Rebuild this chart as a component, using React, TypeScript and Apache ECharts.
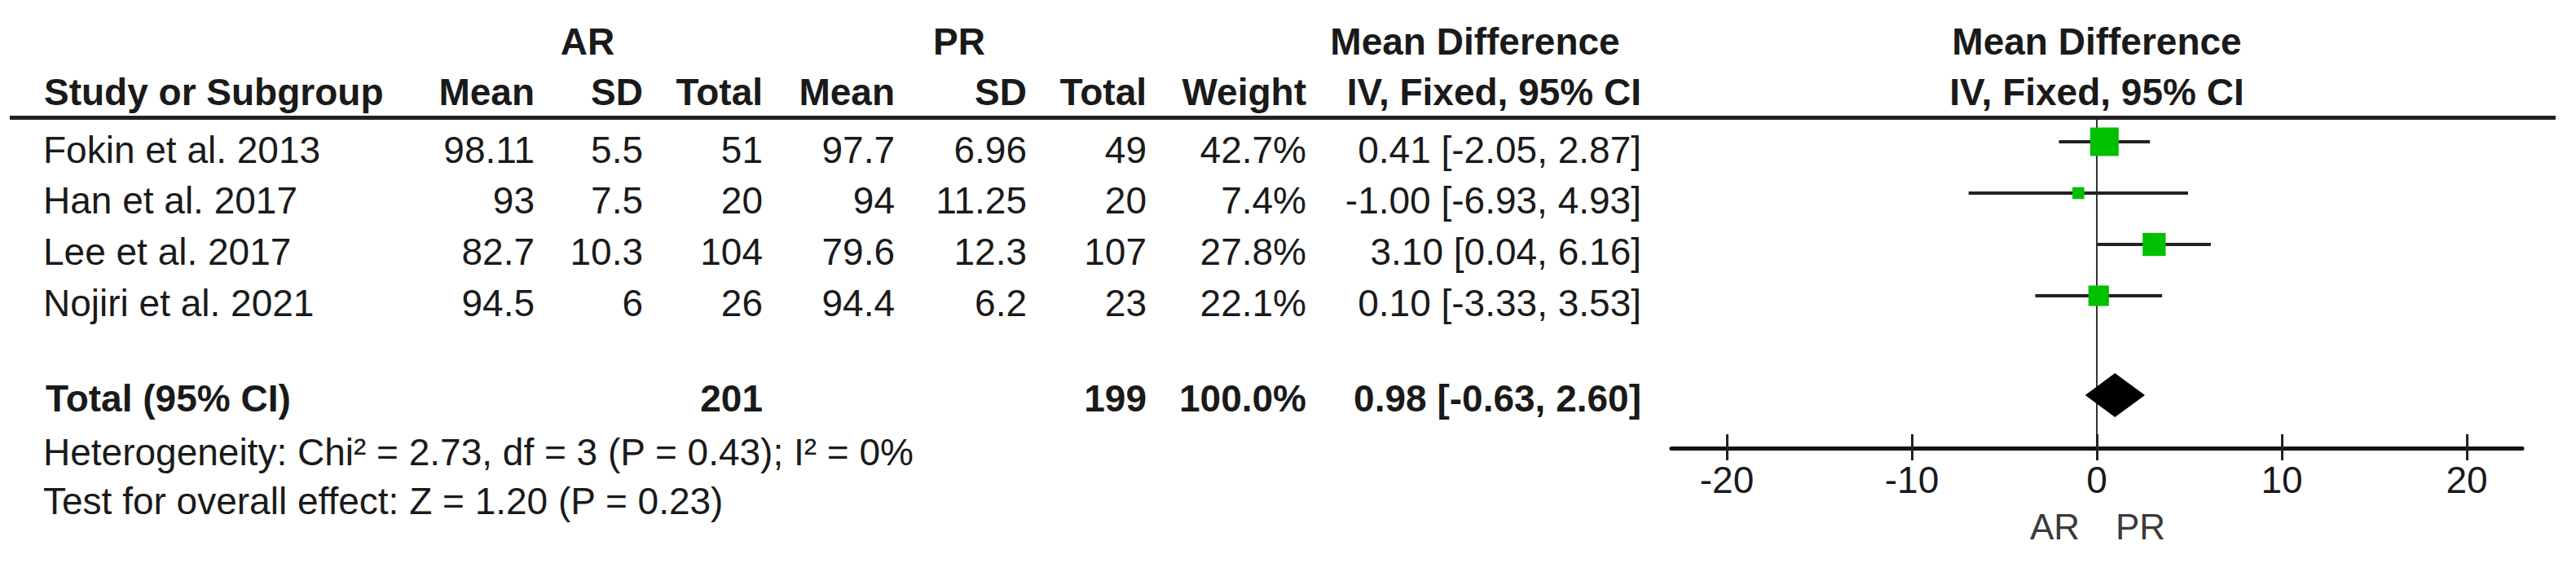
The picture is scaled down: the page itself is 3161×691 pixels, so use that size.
import React, { useEffect, useRef } from 'react';
import * as echarts from 'echarts';

// ---------- data ----------
const studies = ['Fokin et al. 2013', 'Han et al. 2017', 'Lee et al. 2017', 'Nojiri et al. 2021'];
const arMean = [98.11, 93, 82.7, 94.5];
const arSD = [5.5, 7.5, 10.3, 6];
const arTotal = [51, 20, 104, 26];
const prMean = [97.7, 94, 79.6, 94.4];
const prSD = [6.96, 11.25, 12.3, 6.2];
const prTotal = [49, 20, 107, 23];
const weights = [42.7, 7.4, 27.8, 22.1];
const meanDiff = [0.41, -1.0, 3.1, 0.1];
const ciLow = [-2.05, -6.93, 0.04, -3.33];
const ciHigh = [2.87, 4.93, 6.16, 3.53];

const pooledARTotal = 201;
const pooledPRTotal = 199;
const pooledWeight = 100.0;
const pooledMD = 0.98;
const pooledLow = -0.63;
const pooledHigh = 2.6;

const heterogeneityText = 'Heterogeneity: Chi² = 2.73, df = 3 (P = 0.43); I² = 0%';
const overallText = 'Test for overall effect: Z = 1.20 (P = 0.23)';
const xTicks = [-20, -10, 0, 10, 20];
const favourLeft = 'AR';
const favourRight = 'PR';

// ---------- layout ----------
const W = 3161;
const H = 691;
const ZERO_X = 2573;
const PX_PER_UNIT = 22.7;
const X_MIN = -23;
const X_MAX = 23;
const GRID_TOP = 147;
const GRID_BOTTOM_PX = 550;
const ROW0_PX = 174;
const ROW_STEP = 63;
const POOLED_ROW_PX = 485;
const FONT = "'Liberation Sans', Arial, Helvetica, sans-serif";
const FS = 46;
const TXT = '#1a1a1a';

const gridLeft = ZERO_X + X_MIN * PX_PER_UNIT;
const gridWidth = (X_MAX - X_MIN) * PX_PER_UNIT;
const yMin = (GRID_TOP - ROW0_PX) / ROW_STEP;
const yMax = (GRID_BOTTOM_PX - ROW0_PX) / ROW_STEP;
const pooledRow = (POOLED_ROW_PX - ROW0_PX) / ROW_STEP;

const col = {
  arMean: 656,
  arSD: 789,
  arTotal: 936,
  prMean: 1098,
  prSD: 1260,
  prTotal: 1407,
  weight: 1603,
  ci: 2014,
};

const fmtCI = (m: number, l: number, h: number) =>
  `${m.toFixed(2)} [${l.toFixed(2)}, ${h.toFixed(2)}]`;

function txt(
  text: string,
  x: number,
  y: number,
  align: 'left' | 'right' | 'center',
  bold = false,
  size = FS,
  color = TXT
) {
  return {
    type: 'text',
    x,
    y,
    silent: true,
    style: {
      text,
      fill: color,
      fontSize: size,
      fontFamily: FONT,
      fontWeight: bold ? 'bold' : 'normal',
      align,
      textAlign: align,
      verticalAlign: 'middle',
      textVerticalAlign: 'middle',
    },
  };
}

function buildGraphics() {
  const g: any[] = [];
  // header row 1
  const h1 = 51;
  g.push(txt('AR', 721, h1, 'center', true));
  g.push(txt('PR', 1177, h1, 'center', true));
  g.push(txt('Mean Difference', 1810, h1, 'center', true));
  g.push(txt('Mean Difference', ZERO_X, h1, 'center', true));
  // header row 2
  const h2 = 113;
  g.push(txt('Study or Subgroup', 54, h2, 'left', true));
  g.push(txt('Mean', col.arMean, h2, 'right', true));
  g.push(txt('SD', col.arSD, h2, 'right', true));
  g.push(txt('Total', col.arTotal, h2, 'right', true));
  g.push(txt('Mean', col.prMean, h2, 'right', true));
  g.push(txt('SD', col.prSD, h2, 'right', true));
  g.push(txt('Total', col.prTotal, h2, 'right', true));
  g.push(txt('Weight', col.weight, h2, 'right', true));
  g.push(txt('IV, Fixed, 95% CI', col.ci, h2, 'right', true));
  g.push(txt('IV, Fixed, 95% CI', ZERO_X, h2, 'center', true));
  // header rule
  g.push({
    type: 'line',
    silent: true,
    shape: { x1: 12, y1: 144.5, x2: 3136, y2: 144.5 },
    style: { stroke: '#222', lineWidth: 5 },
  });
  // study rows
  studies.forEach((s, i) => {
    const y = 183.5 + 62.7 * i;
    g.push(txt(s, 53, y, 'left'));
    g.push(txt(String(arMean[i]), col.arMean, y, 'right'));
    g.push(txt(String(arSD[i]), col.arSD, y, 'right'));
    g.push(txt(String(arTotal[i]), col.arTotal, y, 'right'));
    g.push(txt(String(prMean[i]), col.prMean, y, 'right'));
    g.push(txt(String(prSD[i]), col.prSD, y, 'right'));
    g.push(txt(String(prTotal[i]), col.prTotal, y, 'right'));
    g.push(txt(weights[i].toFixed(1) + '%', col.weight, y, 'right'));
    g.push(txt(fmtCI(meanDiff[i], ciLow[i], ciHigh[i]), col.ci, y, 'right'));
  });
  // total row
  const ty = 489;
  g.push(txt('Total (95% CI)', 56, ty, 'left', true));
  g.push(txt(String(pooledARTotal), col.arTotal, ty, 'right', true));
  g.push(txt(String(pooledPRTotal), col.prTotal, ty, 'right', true));
  g.push(txt(pooledWeight.toFixed(1) + '%', col.weight, ty, 'right', true));
  g.push(txt(fmtCI(pooledMD, pooledLow, pooledHigh), col.ci, ty, 'right', true));
  // footnotes
  g.push(txt(heterogeneityText, 53, 555, 'left'));
  g.push(txt(overallText, 53, 615, 'left'));
  // favours labels
  g.push(txt(favourLeft, ZERO_X - 21, 646, 'right', false, 44, '#3a3a3a'));
  g.push(txt(favourRight, ZERO_X + 23, 646, 'left', false, 44, '#3a3a3a'));
  return g;
}

export default function App() {
  const ref = useRef<HTMLDivElement>(null);
  useEffect(() => {
    if (!ref.current) return;
    const chart = echarts.init(ref.current, undefined, { renderer: 'svg' });
    const gridCommon = {
      left: gridLeft,
      width: gridWidth,
      top: GRID_TOP,
      bottom: H - GRID_BOTTOM_PX,
      containLabel: false,
    };
    const option: any = {
      animation: false,
      backgroundColor: '#ffffff',
      grid: [gridCommon, { ...gridCommon }],
      xAxis: [
        {
          gridIndex: 0,
          type: 'value',
          min: X_MIN,
          max: X_MAX,
          axisLine: { show: true, onZero: false, lineStyle: { color: '#111', width: 5 } },
          axisTick: {
            show: true,
            inside: true,
            length: 17,
            customValues: xTicks,
            lineStyle: { color: '#222', width: 3 },
          },
          axisLabel: {
            show: true,
            customValues: xTicks,
            margin: 16,
            fontSize: FS,
            fontFamily: FONT,
            color: TXT,
          },
          splitLine: { show: false },
        },
        {
          gridIndex: 1,
          type: 'value',
          min: X_MIN,
          max: X_MAX,
          axisLine: { show: false, onZero: false },
          axisTick: {
            show: true,
            inside: false,
            length: 15,
            customValues: xTicks,
            lineStyle: { color: '#222', width: 3 },
          },
          axisLabel: { show: false },
          splitLine: { show: false },
        },
      ],
      yAxis: [
        {
          gridIndex: 0,
          type: 'value',
          inverse: true,
          min: yMin,
          max: yMax,
          axisLine: { show: true, onZero: true, lineStyle: { color: '#333', width: 2 } },
          axisTick: { show: false },
          axisLabel: { show: false },
          splitLine: { show: false },
        },
        {
          gridIndex: 1,
          type: 'value',
          show: false,
          min: 0,
          max: 1,
        },
      ],
      series: [
        {
          type: 'custom',
          name: 'studies',
          xAxisIndex: 0,
          yAxisIndex: 0,
          clip: false,
          encode: { x: [0, 2, 3], y: 1 },
          data: studies.map((_, i) => [meanDiff[i], i, ciLow[i], ciHigh[i], weights[i]]),
          renderItem: (params: any, api: any) => {
            const md = api.value(0);
            const row = api.value(1);
            const lo = api.value(2);
            const hi = api.value(3);
            const w = api.value(4);
            const pLo = api.coord([lo, row]);
            const pHi = api.coord([hi, row]);
            const pc = api.coord([md, row]);
            const side = 35 * Math.sqrt(w / 42.7);
            return {
              type: 'group',
              children: [
                {
                  type: 'line',
                  shape: { x1: pLo[0], y1: pLo[1], x2: pHi[0], y2: pHi[1] },
                  style: { stroke: '#222', lineWidth: 4 },
                },
                {
                  type: 'rect',
                  shape: { x: pc[0] - side / 2, y: pc[1] - side / 2, width: side, height: side },
                  style: { fill: '#00c000' },
                },
              ],
            };
          },
        },
        {
          type: 'custom',
          name: 'pooled',
          xAxisIndex: 0,
          yAxisIndex: 0,
          clip: false,
          encode: { x: [0, 2, 3], y: 1 },
          data: [[pooledMD, pooledRow, pooledLow, pooledHigh]],
          renderItem: (params: any, api: any) => {
            const md = api.value(0);
            const row = api.value(1);
            const lo = api.value(2);
            const hi = api.value(3);
            const pLo = api.coord([lo, row]);
            const pHi = api.coord([hi, row]);
            const pc = api.coord([md, row]);
            const half = 27;
            return {
              type: 'polygon',
              shape: {
                points: [
                  [pLo[0], pc[1]],
                  [pc[0], pc[1] - half],
                  [pHi[0], pc[1]],
                  [pc[0], pc[1] + half],
                ],
              },
              style: { fill: '#000' },
            };
          },
        },
      ],
      graphic: { elements: buildGraphics() },
    };
    chart.setOption(option);
    return () => chart.dispose();
  }, []);
  return (
    <div
      ref={ref}
      style={{ position: 'fixed', left: 0, top: 0, width: W, height: H, background: '#fff' }}
    />
  );
}
